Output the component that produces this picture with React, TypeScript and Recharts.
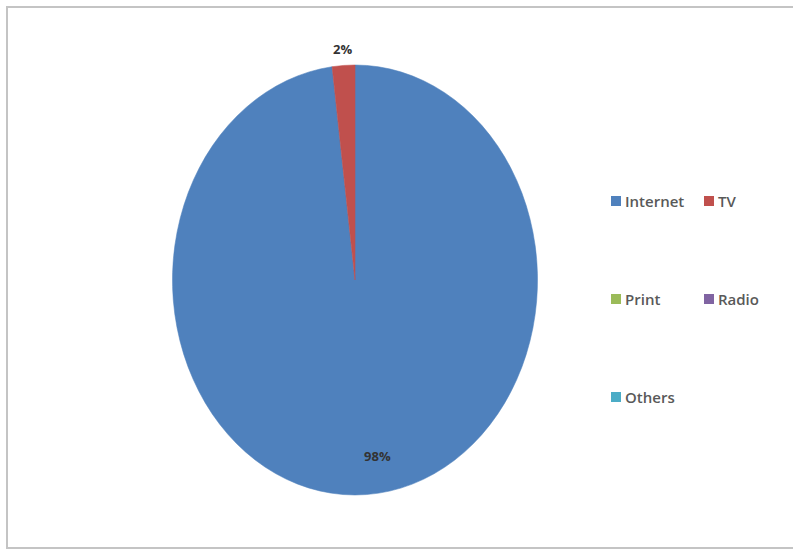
import { PieChart, Pie, Cell } from "recharts";

const channels = ["Internet", "TV", "Print", "Radio", "Others"];
const shares = [98, 2, 0, 0, 0];
const colors = ["#4f81bd", "#c0504d", "#9bbb59", "#8064a2", "#4bacc6"];
// legend is laid out in rows of two like the original
const legendRows = [
  ["Internet", "TV"],
  ["Print", "Radio"],
  ["Others"]
];

const data = channels.map((name, i) => ({ name, value: shares[i] }));

// the reference pie is an ellipse, taller than wide
const stretch = 1.178;
const centerX = 355;
const centerY = 280;
const radius = 182.5;
const RAD = Math.PI / 180;

function renderLabel(props: any) {
  const { cx, cy, midAngle, outerRadius, value, index } = props;
  if (!value) return null;
  const inside = value > 50;
  const r = inside ? outerRadius * 0.82 : outerRadius + 14;
  const x = cx + r * Math.cos(-midAngle * RAD) + (inside ? 13 : 0);
  const y = cy + r * Math.sin(-midAngle * RAD);
  return (
    <text
      key={`label-${index}`}
      transform={`translate(${x},${y}) scale(1,${1 / stretch})`}
      textAnchor="middle"
      dominantBaseline="central"
      fontFamily="'Open Sans', sans-serif"
      fontWeight={700}
      fontSize={13}
      fill="#333333"
    >
      {`${value}%`}
    </text>
  );
}

export default function App() {
  return (
    <div style={{ position: "fixed", left: 0, top: 0, width: 793, height: 552, background: "#ffffff", overflow: "hidden" }}>
      <div
        style={{
          position: "absolute",
          left: 6,
          top: 6,
          width: 820,
          height: 543,
          border: "2px solid #c4c4c4",
          boxSizing: "border-box"
        }}
      />
      <div
        style={{
          position: "absolute",
          left: 0,
          top: 0,
          transform: `scaleY(${stretch})`,
          transformOrigin: `0 ${centerY}px`
        }}
      >
        <PieChart width={793} height={552} margin={{ top: 0, right: 0, bottom: 0, left: 0 }}>
          <Pie
            data={data}
            dataKey="value"
            nameKey="name"
            cx={centerX}
            cy={centerY}
            outerRadius={radius}
            startAngle={90}
            endAngle={-270}
            label={renderLabel}
            labelLine={false}
            isAnimationActive={false}
          >
            {data.map((entry, index) => (
              <Cell key={entry.name} fill={colors[index]} stroke={colors[index]} strokeWidth={0.5} />
            ))}
          </Pie>
        </PieChart>
      </div>
      <div style={{ position: "absolute", left: 611, top: 190, fontFamily: "'Open Sans', sans-serif", fontSize: 15, fontWeight: 600, color: "#595959" }}>
        {legendRows.map((row, ri) => (
          <div key={ri} style={{ display: "flex", height: 98, alignItems: "flex-start" }}>
            {row.map((name) => (
              <div key={name} style={{ display: "flex", alignItems: "center", width: 93, height: 22 }}>
                <span
                  style={{
                    display: "inline-block",
                    width: 10,
                    height: 10,
                    background: colors[channels.indexOf(name)],
                    marginRight: 4
                  }}
                />
                <span>{name}</span>
              </div>
            ))}
          </div>
        ))}
      </div>
    </div>
  );
}
